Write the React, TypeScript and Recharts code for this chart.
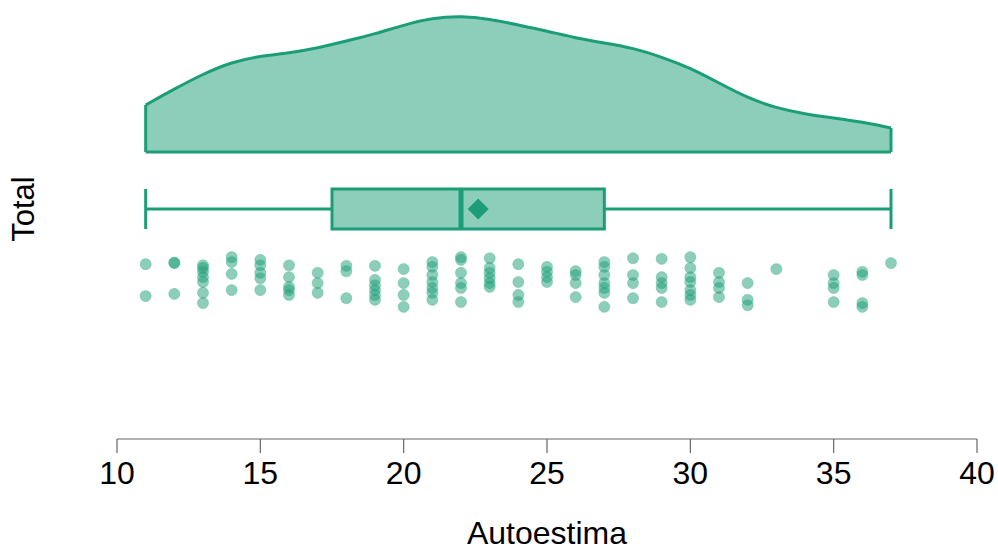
import React from 'react';
import {
  ComposedChart,
  Area,
  Scatter,
  XAxis,
  YAxis,
  ReferenceArea,
  ReferenceLine,
  Label,
} from 'recharts';

// axis
const xTicks = [10, 15, 20, 25, 30, 35, 40];

// density cloud (Autoestima, evaluated at each score)
const cloudScores = [11, 12, 13, 14, 15, 16, 17, 18, 19, 20, 21, 22, 23, 24, 25, 26, 27, 28, 29, 30, 31, 32, 33, 34, 35, 36, 37];
const cloudDensity = [
  0.0188, 0.0252, 0.0312, 0.036, 0.0384, 0.0396, 0.0416, 0.0444, 0.0472, 0.0508, 0.0536, 0.0544, 0.0532, 0.0508,
  0.0484, 0.0456, 0.0436, 0.0416, 0.038, 0.0336, 0.0276, 0.0216, 0.0176, 0.0152, 0.0136, 0.012, 0.0096,
];

// box plot summary
const boxMin = 11;
const boxQ1 = 17.5;
const boxMedian = 22;
const boxQ3 = 27;
const boxMax = 37;
const boxMean = 22.6;

// raw observations: score and vertical jitter (0..1)
const rainScores = [11, 12, 13, 14, 15, 16, 17, 18, 19, 20, 21, 22, 23, 24, 25, 26, 27, 28, 29, 30, 31, 32, 33, 35, 36, 37];
const rainJitter = [
  [0.83, 0.24],
  [0.85, 0.86, 0.28],
  [0.81, 0.76, 0.69, 0.59, 0.5, 0.3, 0.11],
  [0.96, 0.87, 0.65, 0.35],
  [0.91, 0.81, 0.67, 0.57, 0.35],
  [0.81, 0.59, 0.41, 0.35, 0.26],
  [0.67, 0.48, 0.3],
  [0.8, 0.7, 0.2],
  [0.8, 0.54, 0.44, 0.35, 0.26, 0.17],
  [0.74, 0.48, 0.26, 0.04],
  [0.87, 0.78, 0.63, 0.5, 0.39, 0.3, 0.17],
  [0.96, 0.91, 0.67, 0.48, 0.39, 0.13],
  [0.94, 0.76, 0.67, 0.57, 0.48, 0.41],
  [0.83, 0.5, 0.26, 0.13],
  [0.78, 0.69, 0.59, 0.5],
  [0.7, 0.63, 0.48, 0.22],
  [0.87, 0.78, 0.63, 0.48, 0.39, 0.3, 0.04],
  [0.94, 0.63, 0.48, 0.2],
  [0.93, 0.59, 0.48, 0.39, 0.13],
  [0.96, 0.76, 0.59, 0.5, 0.35, 0.26, 0.17],
  [0.67, 0.5, 0.39, 0.22],
  [0.48, 0.17, 0.07],
  [0.74],
  [0.63, 0.48, 0.39, 0.13],
  [0.69, 0.63, 0.11, 0.04],
  [0.85],
];

const GREEN = '#1b9e77';
const LIGHT = '#8dcebb';
const FONT = '"Liberation Sans", Arial, sans-serif';

const cloudData = cloudScores.map((x, i) => ({ x, d: cloudDensity[i] }));
const rainData = rainScores.flatMap((x, i) => rainJitter[i].map((j) => ({ x, j })));
const meanData = [{ x: boxMean, b: 0 }];

const Dot = (props: any) => {
  const { cx, cy } = props;
  return <circle cx={cx} cy={cy} r={5.6} fill={GREEN} fillOpacity={0.5} stroke={GREEN} strokeOpacity={0.25} strokeWidth={1} />;
};

const Diamond = (props: any) => {
  const { cx, cy } = props;
  const s = 10.5;
  return <polygon points={`${cx},${cy - s} ${cx + s},${cy} ${cx},${cy + s} ${cx - s},${cy}`} fill={GREEN} />;
};

export default function App() {
  return (
    <div style={{ position: 'absolute', left: 0, top: 0, width: 998, height: 552, background: '#fff', fontFamily: FONT }}>
      <ComposedChart width={998} height={552} margin={{ top: 10, right: 21, left: 117, bottom: 0 }}>
        <XAxis
          dataKey="x"
          type="number"
          domain={[10, 40]}
          ticks={xTicks}
          allowDataOverflow
          height={113}
          stroke="#666"
          strokeWidth={1.2}
          tickSize={14}
          tickMargin={8}
          tick={{ fill: '#000', fontSize: 32, fontFamily: FONT }}
        >
          <Label value="Autoestima" position="insideBottom" offset={8} fill="#000" fontSize={32} fontFamily={FONT} />
        </XAxis>
        <YAxis yAxisId="cloud" dataKey="d" type="number" domain={[-0.1148, 0.0568]} allowDataOverflow hide />
        <YAxis yAxisId="box" dataKey="b" type="number" domain={[-5.75, 4.975]} allowDataOverflow hide />
        <YAxis yAxisId="rain" dataKey="j" type="number" domain={[-2.407, 5.537]} allowDataOverflow hide />

        {/* cloud */}
        <Area
          yAxisId="cloud"
          data={cloudData}
          dataKey="d"
          type="basis"
          baseValue={0}
          fill={LIGHT}
          fillOpacity={1}
          stroke={GREEN}
          strokeWidth={3}
          isAnimationActive={false}
          dot={false}
          activeDot={false}
        />
        <ReferenceLine yAxisId="cloud" segment={[{ x: cloudScores[0], y: 0 }, { x: cloudScores[cloudScores.length - 1], y: 0 }]} stroke={GREEN} strokeWidth={3} />
        <ReferenceLine yAxisId="cloud" segment={[{ x: cloudScores[0], y: 0 }, { x: cloudScores[0], y: cloudDensity[0] }]} stroke={GREEN} strokeWidth={3} />
        <ReferenceLine
          yAxisId="cloud"
          segment={[{ x: cloudScores[cloudScores.length - 1], y: 0 }, { x: cloudScores[cloudScores.length - 1], y: cloudDensity[cloudDensity.length - 1] }]}
          stroke={GREEN}
          strokeWidth={3}
        />

        {/* box */}
        <ReferenceLine yAxisId="box" segment={[{ x: boxMin, y: 0 }, { x: boxQ1, y: 0 }]} stroke={GREEN} strokeWidth={3} />
        <ReferenceLine yAxisId="box" segment={[{ x: boxQ3, y: 0 }, { x: boxMax, y: 0 }]} stroke={GREEN} strokeWidth={3} />
        <ReferenceLine yAxisId="box" segment={[{ x: boxMin, y: -0.5 }, { x: boxMin, y: 0.5 }]} stroke={GREEN} strokeWidth={3} />
        <ReferenceLine yAxisId="box" segment={[{ x: boxMax, y: -0.5 }, { x: boxMax, y: 0.5 }]} stroke={GREEN} strokeWidth={3} />
        <ReferenceArea yAxisId="box" x1={boxQ1} x2={boxQ3} y1={-0.5} y2={0.5} fill={LIGHT} fillOpacity={1} stroke={GREEN} strokeWidth={3} />
        <ReferenceLine yAxisId="box" segment={[{ x: boxMedian, y: -0.5 }, { x: boxMedian, y: 0.5 }]} stroke={GREEN} strokeWidth={5} />
        <Scatter yAxisId="box" data={meanData} dataKey="b" shape={<Diamond />} isAnimationActive={false} />

        {/* rain */}
        <Scatter yAxisId="rain" data={rainData} dataKey="j" shape={<Dot />} isAnimationActive={false} />
      </ComposedChart>
      <div
        style={{
          position: 'absolute',
          left: 24,
          top: 209,
          transform: 'translate(-50%, -50%) rotate(-90deg)',
          fontSize: 31,
          color: '#000',
          whiteSpace: 'nowrap',
          fontFamily: FONT,
        }}
      >
        Total
      </div>
    </div>
  );
}
